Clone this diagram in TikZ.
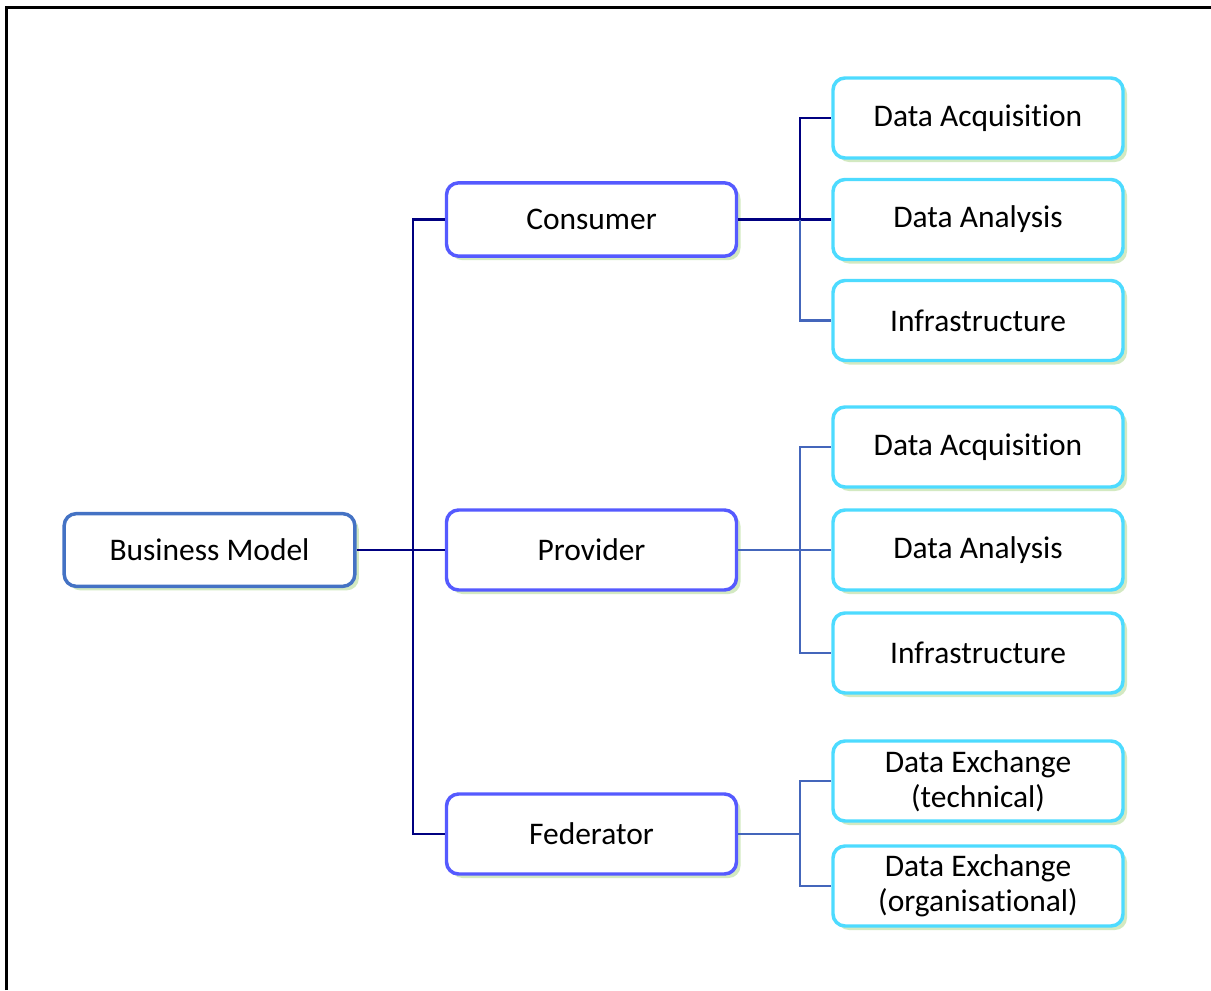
\documentclass[tikz,border=0pt]{standalone}
\usepackage{fontspec}
\setmainfont{Carlito}[RawFeature=-liga]
\usetikzlibrary{shadows}
\definecolor{navy}{RGB}{0,0,128}
\definecolor{linkblue}{RGB}{68,102,187}
\definecolor{bmblue}{RGB}{68,114,196}
\definecolor{midblue}{RGB}{85,90,255}
\definecolor{cyanb}{RGB}{77,219,255}
\definecolor{shadowgreen}{RGB}{200,228,178}
\tikzset{
  box/.style={draw, line width=2.6pt, rounded corners=9pt, fill=white, align=center,
    font=\fontsize{23.6}{26.3}\selectfont, text=black,
    drop shadow={shadow xshift=3pt, shadow yshift=-3pt, fill=shadowgreen, opacity=0.8}},
  rootbox/.style={box, draw=bmblue, minimum width=218pt, minimum height=54.5pt},
  midbox/.style={box, draw=midblue, minimum width=217.5pt, minimum height=60pt},
  leafbox/.style={box, draw=cyanb, minimum width=217.5pt, minimum height=60pt},
  navylink/.style={draw=navy, line width=1.9pt},
  bluelink/.style={draw=linkblue, line width=1.9pt},
  frame/.style={draw=black, line width=2pt}
}
\begin{document}
\begin{tikzpicture}[x=0.75pt, y=-0.75pt]
\useasboundingbox (0,0) rectangle (1211,990);
\draw[frame] (6.5,990) -- (6.5,7.5) -- (1211,7.5);

\node[rootbox] (bm) at (209.5,550) {Business Model};
\node[midbox, minimum height=55pt] (cons) at (591.5,219.5) {Consumer};
\node[midbox] (prov) at (591.5,550) {Provider};
\node[midbox] (fed) at (591.5,834) {Federator};

\node[leafbox] (da1) at (978,118) {Data Acquisition};
\node[leafbox] (dan1) at (978,219.5) {Data Analysis};
\node[leafbox] (inf1) at (978,320.5) {Infrastructure};
\node[leafbox] (da2) at (978,447) {Data Acquisition};
\node[leafbox] (dan2) at (978,550) {Data Analysis};
\node[leafbox] (inf2) at (978,653) {Infrastructure};
\node[leafbox] (de1) at (978,781) {Data Exchange\\(technical)};
\node[leafbox] (de2) at (978,886) {Data Exchange\\(organisational)};

% root connectors
\coordinate (j0) at (413,550);
\draw[navylink] (bm.east) -- (prov.west);
\draw[navylink] (cons.west) -| (j0) |- (fed.west);

% consumer group
\coordinate (j1) at (800,219.5);
\draw[navylink] (cons.east) -- (j1);
\draw[navylink] (j1) |- (da1.west);
\draw[navylink] (j1) -- (dan1.west);
\draw[bluelink] (j1) |- (inf1.west);

% provider group
\coordinate (j2) at (800,550);
\draw[bluelink] (prov.east) -- (dan2.west);
\draw[bluelink] (da2.west) -| (j2) |- (inf2.west);

% federator group
\coordinate (j3) at (800,834);
\draw[bluelink] (fed.east) -- (j3);
\draw[bluelink] (de1.west) -| (j3) |- (de2.west);
\end{tikzpicture}
\end{document}
